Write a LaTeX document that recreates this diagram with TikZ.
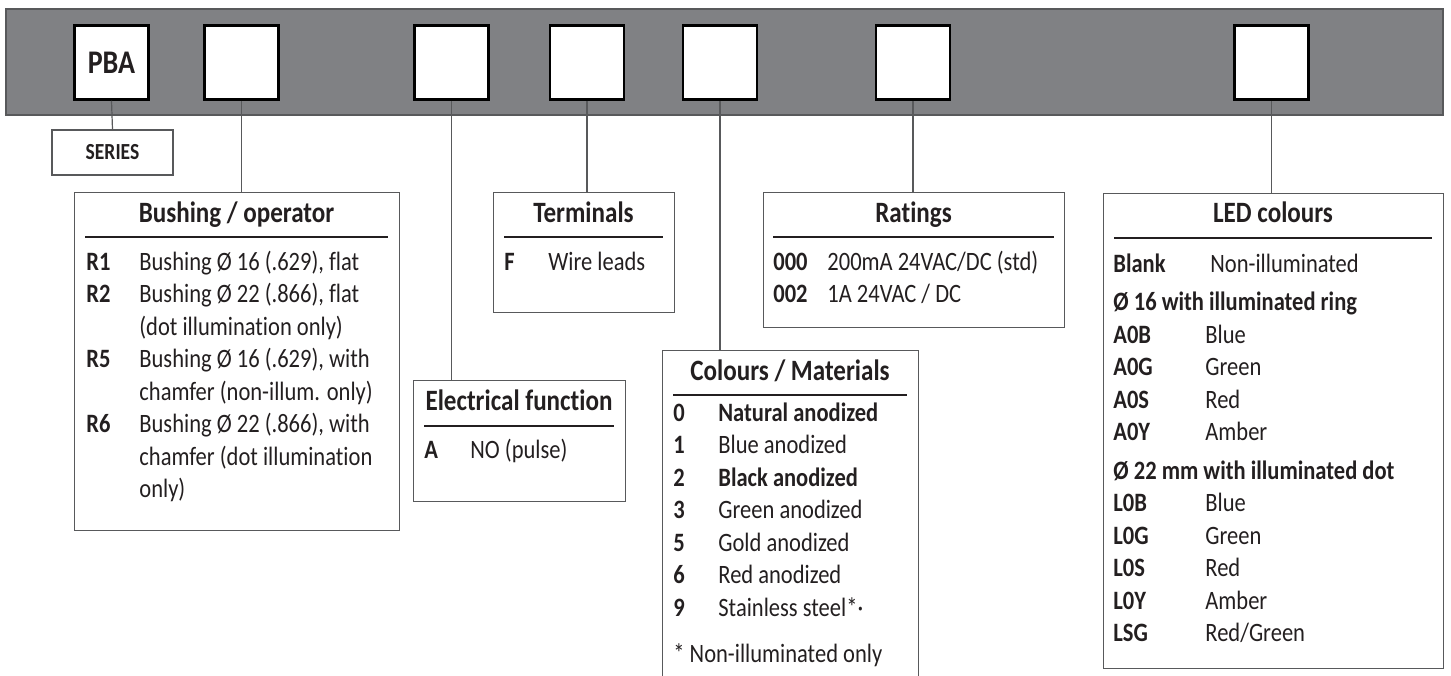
\documentclass[tikz,border=0pt]{standalone}
\usepackage{fontspec}
\setmainfont{Carlito}[FakeStretch=0.85, Ligatures=NoCommon]
\usepackage{array}
\usepackage{tikz}
\definecolor{bargray}{RGB}{128,129,132}
\definecolor{edgegray}{RGB}{88,89,91}
\definecolor{ink}{RGB}{35,31,32}
\newcommand{\bodysize}{\fontsize{13.25pt}{16.25pt}\selectfont}
\newcommand{\headsize}{\fontsize{14.75pt}{18pt}\selectfont\bfseries}

\tikzset{
  selbox/.style={draw=black, fill=white, line width=1.25pt, minimum size=37pt, inner sep=0pt},
  infobox/.style={draw=edgegray, line width=0.6pt, anchor=north west, inner sep=0pt},
  link/.style={edgegray, line width=0.6pt},
  headrule/.style={ink, line width=0.6pt},
  heading/.style={anchor=base, inner sep=0pt, font=\headsize, text=ink},
  listing/.style={anchor=base west, inner sep=0pt, font=\bodysize, text=ink}
}

\begin{document}
\begin{tikzpicture}[x=0.5pt, y=-0.5pt]
\useasboundingbox (0,0) rectangle (1451,675);
\draw[edgegray, fill=bargray, line width=0.75pt] (6,9) rectangle (1443,115);

\node[selbox, font=\fontsize{16.5pt}{18pt}\selectfont\bfseries, text=ink] (sel1) at (111.5,62.5) {PBA};
\node[selbox] (sel2) at (241.5,62.5) {};
\node[selbox] (sel3) at (451.5,62.5) {};
\node[selbox] (sel4) at (587,62.5) {};
\node[selbox] (sel5) at (720,62.5) {};
\node[selbox] (sel6) at (913,62.5) {};
\node[selbox] (sel7) at (1271.5,62.5) {};

\node[infobox, anchor=center, minimum width=60.5pt, minimum height=22.5pt, font=\fontsize{11.5pt}{13pt}\selectfont\bfseries, text=ink] (series) at (112.5,152.5) {SERIES};
\node[infobox, minimum width=162.5pt, minimum height=169pt] (bushing) at (74,192) {};
\node[infobox, minimum width=106pt, minimum height=60.5pt] (elec) at (413,380) {};
\node[infobox, minimum width=90.5pt, minimum height=60pt] (term) at (493,192) {};
\node[infobox, minimum width=128pt, minimum height=172.5pt] (colours) at (662,350) {};
\node[infobox, minimum width=150.5pt, minimum height=67.5pt] (ratings) at (763,192) {};
\node[infobox, minimum width=170pt, minimum height=237.5pt] (led) at (1103,193) {};

\draw[link] (sel1.south) -- (series.north);
\draw[link] (sel2.south) -- (sel2.south |- bushing.north);
\draw[link] (sel3.south) -- (sel3.south |- elec.north);
\draw[link] (sel4.south) -- (sel4.south |- term.north);
\draw[link] (sel5.south) -- (sel5.south |- colours.north);
\draw[link] (sel6.south) -- (sel6.south |- ratings.north);
\draw[link] (sel7.south) -- (sel7.south |- led.north);

\node[heading] (bushinghead) at (236.5,222) {Bushing / operator};
\draw[headrule] (85,237) -- (388,237);
\node[listing] (bushinglist) at (86,270) {\begin{tabular}[t]{@{}>{\bfseries}p{26.5pt}@{}l@{}}
R1 & Bushing Ø 16 (.629), flat\\
R2 & Bushing Ø 22 (.866), flat\\
   & (dot illumination only)\\
R5 & Bushing Ø 16 (.629), with\\
   & chamfer (non-illum. only)\\
R6 & Bushing Ø 22 (.866), with\\
   & chamfer (dot illumination\\
   & only)
\end{tabular}};

\node[heading] (elechead) at (519,410) {Electrical function};
\draw[headrule] (424,426) -- (614,426);
\node[listing] (eleclist) at (424,458) {\begin{tabular}[t]{@{}>{\bfseries}p{23pt}@{}l@{}}
A & NO (pulse)
\end{tabular}};

\node[heading] (termhead) at (583.5,222) {Terminals};
\draw[headrule] (504,237) -- (663,237);
\node[listing] (termlist) at (504,270) {\begin{tabular}[t]{@{}>{\bfseries}p{22pt}@{}l@{}}
F & Wire leads
\end{tabular}};

\node[heading] (colourshead) at (790,380) {Colours / Materials};
\draw[headrule] (673,395) -- (907,395);
\node[listing] (colourslist) at (673,421) {\begin{tabular}[t]{@{}>{\bfseries}p{22.5pt}@{}l@{}}
0 & \textbf{Natural anodized}\\
1 & Blue anodized\\
2 & \textbf{Black anodized}\\
3 & Green anodized\\
5 & Gold anodized\\
6 & Red anodized\\
9 & Stainless steel*·\\[6.75pt]
\multicolumn{2}{@{}l@{}}{* Non-illuminated only}
\end{tabular}};

\node[heading] (ratingshead) at (913.5,222) {Ratings};
\draw[headrule] (773,237) -- (1054,237);
\node[listing] (ratingslist) at (773,270) {\begin{tabular}[t]{@{}>{\bfseries}p{27pt}@{}l@{}}
000 & 200mA 24VAC/DC (std)\\
002 & 1A 24VAC / DC
\end{tabular}};

\node[heading] (ledhead) at (1273,222) {LED colours};
\draw[headrule] (1114,238) -- (1432,238);
\node[listing] (ledlist) at (1113,272) {\begin{tabular}[t]{@{}>{\bfseries}p{46pt}@{}l@{}}
Blank & \hspace{2.5pt}Non-illuminated\\[3pt]
\multicolumn{2}{@{}l@{}}{\bfseries Ø 16 with illuminated ring}\\
A0B & Blue\\
A0G & Green\\
A0S & Red\\
A0Y & Amber\\[3pt]
\multicolumn{2}{@{}l@{}}{\bfseries Ø 22 mm with illuminated dot}\\
L0B & Blue\\
L0G & Green\\
L0S & Red\\
L0Y & Amber\\
LSG & Red/Green
\end{tabular}};

\end{tikzpicture}
\end{document}
